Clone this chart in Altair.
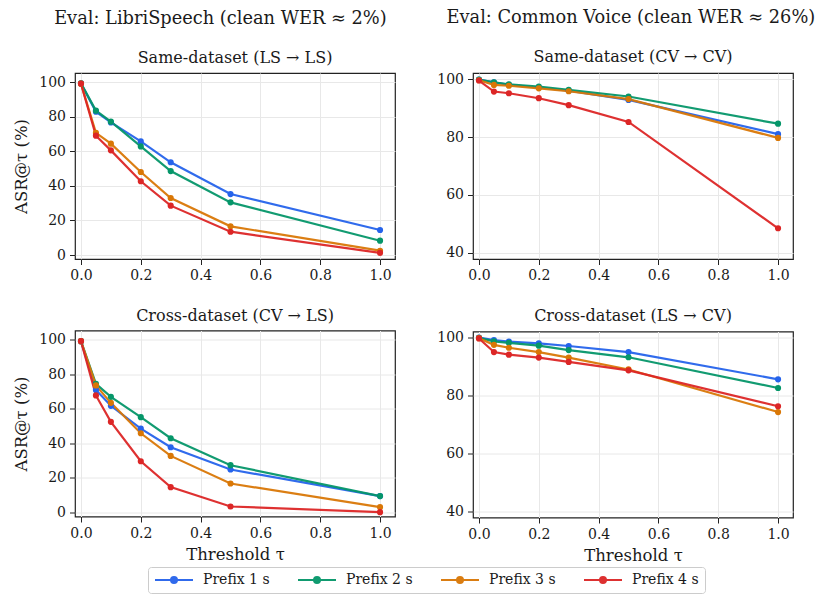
import altair as alt
import pandas as pd

# ---------------- data ----------------
tau = [0.0, 0.05, 0.1, 0.2, 0.3, 0.5, 1.0]
prefixes = ["Prefix 1 s", "Prefix 2 s", "Prefix 3 s", "Prefix 4 s"]
colors = ["#2563eb", "#059669", "#d97706", "#dc2626"]

# Same-dataset (LS -> LS)
ls_ls_p1 = [99.4, 83.0, 76.8, 65.8, 53.7, 35.3, 14.5]
ls_ls_p2 = [99.4, 83.6, 77.2, 62.9, 48.6, 30.5, 8.3]
ls_ls_p3 = [99.2, 70.7, 64.5, 48.1, 33.0, 16.6, 2.5]
ls_ls_p4 = [99.2, 69.1, 60.6, 42.7, 28.6, 13.5, 1.2]

# Same-dataset (CV -> CV)
cv_cv_p1 = [99.8, 98.9, 98.0, 97.1, 96.0, 92.8, 81.0]
cv_cv_p2 = [99.8, 98.9, 98.2, 97.4, 96.3, 94.0, 84.6]
cv_cv_p3 = [99.6, 98.0, 97.7, 96.8, 95.8, 93.1, 79.7]
cv_cv_p4 = [99.5, 95.7, 95.1, 93.4, 91.0, 85.2, 48.5]

# Cross-dataset (CV -> LS)
cv_ls_p1 = [99.2, 71.0, 61.8, 48.6, 37.8, 24.9, 9.5]
cv_ls_p2 = [99.2, 74.5, 67.0, 55.2, 43.0, 27.4, 9.5]
cv_ls_p3 = [99.2, 73.6, 63.5, 45.9, 32.8, 16.8, 3.1]
cv_ls_p4 = [99.2, 67.8, 52.5, 29.7, 14.7, 3.5, 0.2]

# Cross-dataset (LS -> CV)
ls_cv_p1 = [100.0, 99.1, 98.6, 98.0, 97.1, 95.0, 85.6]
ls_cv_p2 = [99.9, 98.7, 98.2, 97.2, 95.7, 93.2, 82.6]
ls_cv_p3 = [99.8, 97.5, 96.5, 95.0, 93.1, 89.0, 74.3]
ls_cv_p4 = [99.7, 95.0, 94.1, 93.1, 91.6, 88.7, 76.3]

x_ticks = [0.0, 0.2, 0.4, 0.6, 0.8, 1.0]
y_ticks_left = [0, 20, 40, 60, 80, 100]
y_ticks_right = [40, 60, 80, 100]

FONT = "DejaVu Serif"
TXT = "#1a1a1a"


def frame(series_lists):
    rows = []
    for name, vals in zip(prefixes, series_lists):
        for t, v in zip(tau, vals):
            rows.append({"tau": t, "asr": v, "prefix": name})
    return pd.DataFrame(rows)


legend = alt.Legend(
    title=None,
    orient="none",
    legendX=73,
    legendY=494,
    direction="horizontal",
    columns=4,
    symbolType="M-3.8,0L3.8,0M-0.6,0A0.6,0.6 0 1,0 0.6,0A0.6,0.6 0 1,0 -0.6,0Z",
    symbolSize=100,
    symbolOffset=13,
    symbolStrokeWidth=2,
    labelFont=FONT,
    labelFontSize=14,
    labelColor=TXT,
    labelOffset=22,
    columnPadding=24,
    padding=6,
    strokeColor="#cccccc",
    cornerRadius=3,
    fillColor="white",
)


def panel(series_lists, title, ydom, yticks, ytitle, xtitle):
    df = frame(series_lists)
    base = alt.Chart(df).encode(
        x=alt.X(
            "tau:Q",
            scale=alt.Scale(domain=[-0.02, 1.05], nice=False, zero=False),
            axis=alt.Axis(values=x_ticks, format=".1f", title=xtitle),
        ),
        y=alt.Y(
            "asr:Q",
            scale=alt.Scale(domain=ydom, nice=False, zero=False),
            axis=alt.Axis(values=yticks, title=ytitle),
        ),
        color=alt.Color(
            "prefix:N",
            scale=alt.Scale(domain=prefixes, range=colors),
            legend=legend,
        ),
    )
    line = base.mark_line(strokeWidth=2.2, opacity=0.95)
    pts = base.mark_circle(size=38, opacity=1)
    return alt.layer(line, pts).properties(width=320, height=186, title=title)


def panel_title(text):
    return alt.Title(text, fontSize=16, font=FONT, fontWeight="normal",
                     color=TXT, anchor="middle", offset=7)


def column_title(text, dx):
    return alt.Title(text, fontSize=17.8, font=FONT, fontWeight="normal",
                     color=TXT, anchor="middle", offset=21.5, dx=dx)


YL = [-2.3, 105.4]
YR = [37.9, 102.1]

p1 = panel([ls_ls_p1, ls_ls_p2, ls_ls_p3, ls_ls_p4], panel_title("Same-dataset (LS \u2192 LS)"),
           YL, y_ticks_left, "ASR@\u03c4 (%)", None)
p2 = panel([cv_cv_p1, cv_cv_p2, cv_cv_p3, cv_cv_p4], panel_title("Same-dataset (CV \u2192 CV)"),
           YR, y_ticks_right, None, None)
p3 = panel([cv_ls_p1, cv_ls_p2, cv_ls_p3, cv_ls_p4], panel_title("Cross-dataset (CV \u2192 LS)"),
           YL, y_ticks_left, "ASR@\u03c4 (%)", "Threshold \u03c4")
p4 = panel([ls_cv_p1, ls_cv_p2, ls_cv_p3, ls_cv_p4], panel_title("Cross-dataset (LS \u2192 CV)"),
           YR, y_ticks_right, None, "Threshold \u03c4")

col1 = alt.vconcat(p1, p3, spacing=22.5,
                   title=column_title("Eval: LibriSpeech (clean WER \u2248 2%)", 16))
col2 = alt.vconcat(p2, p4, spacing=22.5,
                   title=column_title("Eval: Common Voice (clean WER \u2248 26%)", 16))

chart = alt.hconcat(col1, col2, spacing=40).configure(
    font=FONT, padding={"left": 5, "top": 1, "right": 0, "bottom": 0}
).configure_view(
    stroke="#222222", strokeWidth=1.2
).configure_title(
    font=FONT
).configure_legend(
    labelFont=FONT
).configure_axis(
    labelFont=FONT, titleFont=FONT, labelFontSize=14, titleFontSize=16.5,
    labelColor=TXT, titleColor=TXT, titleFontWeight="normal",
    tickColor="#222222", tickSize=5.5, domain=False,
    grid=True, gridColor="#e8e8e8", gridWidth=1,
    labelPadding=4,
).configure_axisY(titlePadding=9).configure_axisX(titlePadding=6)

chart.save("out.html", embed_options={"renderer": "svg", "actions": False})
